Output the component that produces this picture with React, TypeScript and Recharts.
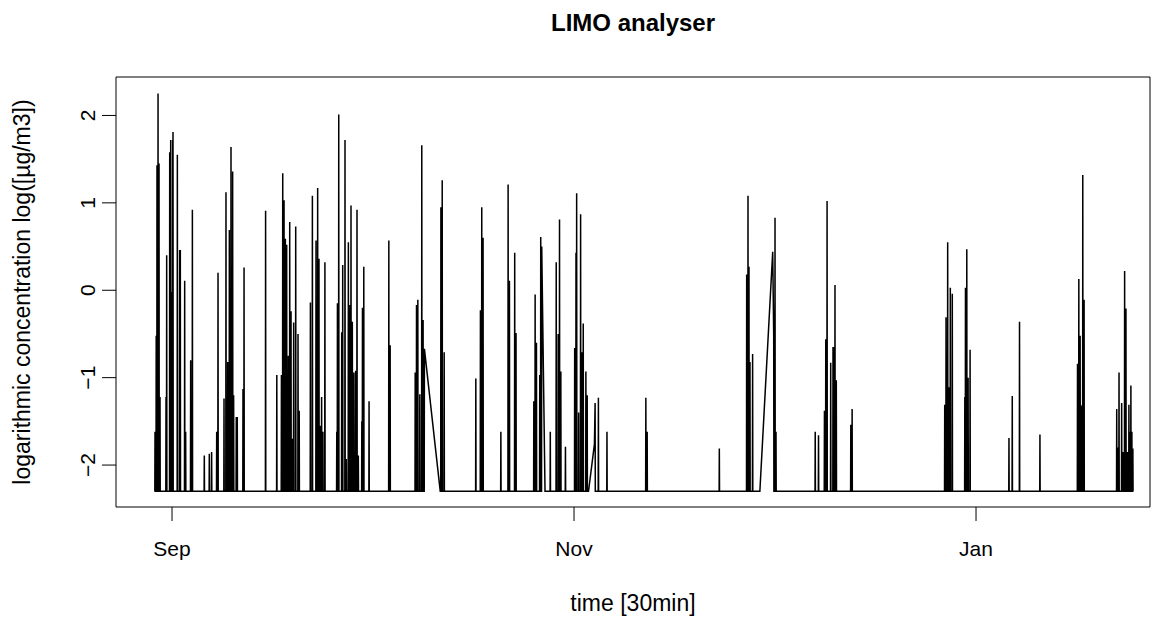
import { LineChart, Line, XAxis, YAxis, ReferenceArea } from 'recharts';

// days since 1 Sep (half-hourly record, only the spikes)
const BASE = -2.3;

const peakDay = [
  -2.58, -2.4, -2.28, -2.12, -1.97, -1.82, -0.91, -0.81, -0.35, -0.2, -0.05, 0.1, 0.15, 0.81, 1.16, 1.26,
  1.92, 2.07, 2.83, 3.09, 4.9, 5.66, 6.01, 6.78, 6.98, 7.89, 8.19, 8.45, 8.7, 8.95, 9.2, 9.35, 9.75, 9.9,
  10.77, 10.93, 14.2, 15.9, 16.6, 16.8, 17.0, 17.2, 17.4, 17.65, 17.86, 18.06, 18.26, 18.46, 18.77, 19.12,
  19.3, 21.0, 21.3, 21.85, 22.1, 22.3, 22.5, 22.7, 22.9, 23.2, 25.0, 25.1, 25.3, 25.75, 25.9, 26.25, 26.45,
  26.76, 27.0, 27.16, 27.36, 27.6, 27.87, 28.07, 28.27, 28.8, 28.9, 29.1, 29.9, 32.9, 33.1, 36.9, 37.1, 37.3,
  37.6, 37.9, 38.1, 38.3, 40.7, 40.8, 41.0, 41.3, 46.1, 46.8, 47.0, 47.2, 49.9, 51.0, 51.2, 52.0, 52.2, 54.9,
  55.1, 55.3, 55.8, 55.95, 56.1, 56.6, 57.4, 58.3, 58.6, 58.8, 59.0, 59.7, 61.1, 61.3, 61.4, 61.7, 62.0, 62.2,
  62.4, 62.8, 63.0, 63.2, 64.1, 64.2, 64.7, 66.0, 71.9, 72.1, 83.05, 87.2, 87.3, 87.4, 87.55, 87.7, 88.1,
  89.2, 91.15, 91.3, 91.5, 91.65, 97.6, 98.1, 99.0, 99.2, 99.4, 99.95, 100.3, 100.4, 100.6, 100.8, 103.0,
  103.2, 117.25, 117.45, 117.7, 117.9, 118.1, 118.4, 120.3, 120.4, 120.6, 120.8, 121.1, 127.0, 127.5, 128.6,
  131.7, 137.4, 137.6, 137.8, 138.0, 138.2, 138.4, 143.35, 143.5, 143.7, 144.1, 144.3, 144.55, 144.75, 145.0,
  145.2, 145.35, 145.5, 145.65, 145.8,
];

const peakConc = [
  -1.62, -0.52, 1.43, 2.25, 1.45, -1.22, -1.22, 0.4, 1.58, 1.72, -0.02, 1.72, 1.81, 1.55, 0.46, 0.46,
  0.11, -1.62, -0.8, 0.92, -1.89, -1.87, -1.85, -1.62, 0.2, -1.24, 1.12, -0.82, 0.69, 1.64, 1.36, -1.2, -1.45,
  -1.45, -1.13, 0.26, 0.91, -0.97, -0.97, 1.34, 1.03, 0.59, 0.52, -0.75, 0.78, -0.24, -1.7, -0.37, 0.73, -0.5,
  -1.38, -0.14, 1.08, 0.57, 1.17, 0.36, -1.55, -1.22, -1.62, 0.32, -1.62, -0.15, 2.01, -0.48, 0.29, 1.72, -1.93,
  0.55, -0.17, 0.97, -0.36, -0.94, -0.92, 0.92, -1.89, -1.5, -0.2, 0.27, -1.27, 0.57, -0.63, -0.94, -0.17, -0.11,
  -1.19, 1.66, -0.34, -0.67, -2.3, 0.95, 1.26, -0.71, -1.01, -0.23, 0.95, 0.6, -1.62, 1.21, 0.11, 0.43, -0.49, -1.27,
  -0.05, -0.6, -0.97, 0.61, 0.5, -2.3, -1.62, 0.32, -0.5, 0.81, -0.93, -1.79, -0.66, 0.43, 1.11, -1.4, 0.87, -0.71,
  -0.38, -0.93, -1.2, -2.3, -1.76, -1.29, -1.23, -1.62, -1.23, -1.62, -1.81, 0.18, -0.48, 1.08, 0.27, -0.82, -0.73,
  -2.3, 0.44, -0.51, 0.83, -1.62, -1.62, -1.66, -1.38, -0.56, 1.02, -0.83, -0.65, -0.65, 0.06, -1.03, -1.54,
  -1.36, -1.31, -0.31, 0.55, -1.11, 0.03, -0.04, -1.22, 0.03, 0.47, -1.0, -0.68, -1.69, -1.21, -0.36,
  -1.65, -0.84, 0.13, -0.52, -1.32, 1.32, -0.11, -1.36, -1.8, -0.94, -1.29, -1.85, 0.22, -0.21, -1.85,
  -1.31, -1.62, -1.09, -1.62, -1.81,
];

// readings after which the record jumps straight to the next one (data gaps)
const gapAfter = [38.3, 56.1, 63.2, 64.1, 89.2, 91.15];

const monthTicks = [0, 61, 122];
const monthLabels = ['Sep', 'Nov', 'Jan'];
const concTicks = [-2, -1, 0, 1, 2];

const data: { day: number; conc: number }[] = [];
peakDay.forEach((d, i) => {
  const joined = i > 0 && gapAfter.includes(peakDay[i - 1]);
  if (!joined) data.push({ day: d - 0.03, conc: BASE });
  data.push({ day: d, conc: peakConc[i] });
  if (!gapAfter.includes(d)) data.push({ day: d + 0.03, conc: BASE });
});

const FONT = '"Liberation Sans", Arial, Helvetica, sans-serif';
const X_MIN = -8.5;
const X_MAX = 148.4;
const Y_MIN = -2.48;
const Y_MAX = 2.44;

function MonthTick({ x, y, payload }: any) {
  const i = monthTicks.indexOf(payload.value);
  return (
    <text x={x} y={y + 35} textAnchor="middle" fontFamily={FONT} fontSize={21} fill="#000">
      {monthLabels[i]}
    </text>
  );
}

function ConcTick({ x, y, payload }: any) {
  const bx = x - 7;
  return (
    <text
      x={bx}
      y={y}
      transform={`rotate(-90, ${bx}, ${y})`}
      textAnchor="middle"
      fontFamily={FONT}
      fontSize={21}
      fill="#000"
    >
      {payload.value < 0 ? '\u2212' + Math.abs(payload.value) : payload.value}
    </text>
  );
}

export default function App() {
  return (
    <div style={{ position: 'absolute', left: 0, top: 0, width: 1166, height: 619, background: '#fff' }}>
      <LineChart width={1166} height={619} data={data} margin={{ top: 77, right: 16, bottom: 0, left: 0 }}>
        <XAxis
          dataKey="day"
          type="number"
          domain={[X_MIN, X_MAX]}
          ticks={monthTicks}
          allowDataOverflow
          axisLine={false}
          tickLine={{ stroke: '#000' }}
          tickSize={14}
          tickMargin={0}
          height={112}
          tick={<MonthTick />}
        />
        <YAxis
          type="number"
          domain={[Y_MIN, Y_MAX]}
          ticks={concTicks}
          allowDataOverflow
          axisLine={false}
          tickLine={{ stroke: '#000' }}
          tickSize={14}
          tickMargin={0}
          width={116}
          tick={<ConcTick />}
        />
        <ReferenceArea
          x1={X_MIN}
          x2={X_MAX}
          y1={Y_MIN}
          y2={Y_MAX}
          fill="none"
          stroke="#000"
          strokeWidth={1}
          ifOverflow="visible"
        />
        <Line
          type="linear"
          dataKey="conc"
          stroke="#000"
          strokeWidth={1.5}
          dot={false}
          isAnimationActive={false}
        />
      </LineChart>
      <div
        style={{
          position: 'absolute',
          left: 116,
          width: 1034,
          top: 11,
          textAlign: 'center',
          fontFamily: FONT,
          fontWeight: 'bold',
          fontSize: 24,
          lineHeight: '24px',
        }}
      >
        LIMO analyser
      </div>
      <div
        style={{
          position: 'absolute',
          left: 116,
          width: 1034,
          top: 592,
          textAlign: 'center',
          fontFamily: FONT,
          fontSize: 23,
          lineHeight: '23px',
        }}
      >
        time [30min]
      </div>
      <div
        style={{
          position: 'absolute',
          left: 22,
          top: 292,
          transform: 'translate(-50%, -50%) rotate(-90deg)',
          whiteSpace: 'nowrap',
          fontFamily: FONT,
          fontSize: 23,
          lineHeight: '23px',
        }}
      >
        logarithmic concentration log([µg/m3])
      </div>
    </div>
  );
}
